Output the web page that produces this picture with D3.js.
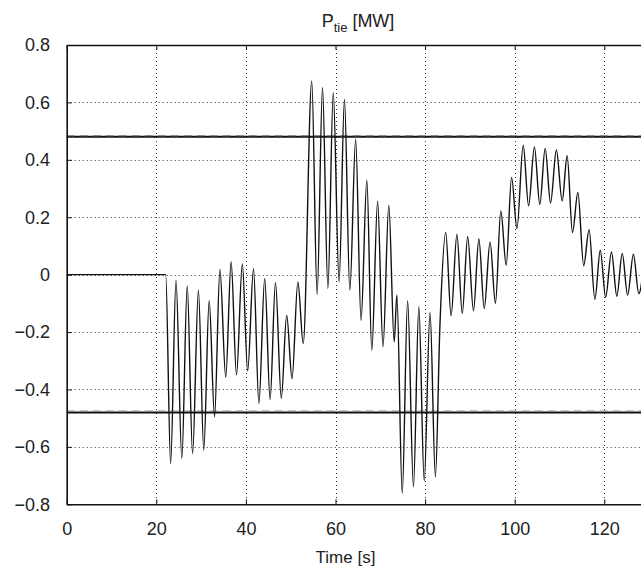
<!DOCTYPE html>
<html>
<head>
<meta charset="utf-8">
<script src="https://cdn.jsdelivr.net/npm/d3@7"></script>
<style>
  html, body { margin: 0; padding: 0; background: #fff; }
  svg { display: block; font-family: "Liberation Sans", Arial, Helvetica, sans-serif; }
</style>
</head>
<body>
<svg id="chart" width="641" height="572"></svg>
<script>
// ---- data ----
const timeS = [0, 22.1, 23.2, 24.4, 25.7, 26.9, 28.1, 29.4, 30.6, 31.8, 33.0, 34.2, 35.5, 36.7, 37.9, 39.2, 40.4, 41.7, 42.9, 44.2, 45.4, 46.6, 47.9, 49.1, 50.3, 51.6, 52.8, 54.7, 55.9, 57.1, 58.3, 59.5, 60.8, 62.0, 63.2, 64.5, 65.7, 67.0, 68.1, 69.4, 70.6, 71.9, 73.1, 73.7, 74.9, 76.1, 77.4, 78.6, 79.8, 81.1, 82.3, 83.3, 84.6, 85.8, 87.1, 88.3, 89.5, 90.8, 92.0, 93.2, 94.5, 95.7, 96.9, 98.1, 99.3, 100.5, 101.9, 103.1, 104.4, 105.6, 106.8, 108.0, 109.3, 110.6, 111.7, 112.9, 114.1, 115.4, 116.6, 117.9, 119.1, 120.3, 121.6, 122.8, 124.0, 125.2, 126.5, 127.7, 129.0];
const ptieMW = [0, 0, -0.658, -0.019, -0.640, -0.039, -0.623, -0.054, -0.611, -0.091, -0.495, 0.018, -0.358, 0.045, -0.349, 0.037, -0.335, 0.021, -0.449, -0.013, -0.435, -0.027, -0.431, -0.141, -0.362, -0.025, -0.240, 0.675, -0.069, 0.652, -0.048, 0.634, -0.025, 0.610, -0.054, 0.472, -0.159, 0.329, -0.263, 0.256, -0.251, 0.242, -0.234, -0.071, -0.762, -0.091, -0.739, -0.112, -0.718, -0.132, -0.704, -0.182, 0.147, -0.143, 0.140, -0.135, 0.132, -0.126, 0.124, -0.118, 0.114, -0.100, 0.222, 0.033, 0.339, 0.161, 0.451, 0.240, 0.445, 0.245, 0.440, 0.250, 0.434, 0.257, 0.414, 0.147, 0.286, 0.031, 0.157, -0.086, 0.085, -0.079, 0.079, -0.075, 0.074, -0.071, 0.071, -0.066, 0.065];
const limitLevels = [0.48, -0.48];
const xTickValues = [0, 20, 40, 60, 80, 100, 120];
const xTickLabels = ["0", "20", "40", "60", "80", "100", "120"];
const yTickValues = [-0.8, -0.6, -0.4, -0.2, 0, 0.2, 0.4, 0.6, 0.8];
const yTickLabels = ["\u22120.8", "\u22120.6", "\u22120.4", "\u22120.2", "0", "0.2", "0.4", "0.6", "0.8"];
const xDomain = [0, 130];
const yDomain = [-0.8, 0.8];

(function () {
  const svg = d3.select("#chart");
  const pLeft = 66.7, pTop = 45, pBottom = 504.3;
  const pxPerSec = (604.3 - pLeft) / 120;
  const pRight = pLeft + (xDomain[1] - xDomain[0]) * pxPerSec;

  const x = d3.scaleLinear().domain(xDomain).range([pLeft, pRight]);
  const y = d3.scaleLinear().domain(yDomain).range([pBottom, pTop]);

  svg.append("defs").append("clipPath").attr("id", "plotClip")
    .append("rect").attr("x", pLeft).attr("y", pTop).attr("width", pRight - pLeft).attr("height", pBottom - pTop);

  // grid
  const grid = svg.append("g").attr("stroke", "#333").attr("stroke-width", 1).attr("stroke-dasharray", "1,3");
  grid.selectAll("line.gx").data(xTickValues.filter(d => d > xDomain[0])).join("line")
    .attr("x1", d => Math.round(x(d)) + 0.5).attr("x2", d => Math.round(x(d)) + 0.5)
    .attr("y1", pTop).attr("y2", pBottom);
  grid.selectAll("line.gy").data(yTickValues.filter(d => d > yDomain[0] && d < yDomain[1])).join("line")
    .attr("x1", pLeft).attr("x2", pRight)
    .attr("y1", d => Math.round(y(d)) + 0.5).attr("y2", d => Math.round(y(d)) + 0.5);

  // limit lines: solid black with grey dashes
  const lim = svg.append("g");
  lim.selectAll("line.solid").data(limitLevels).join("line")
    .attr("x1", pLeft).attr("x2", pRight)
    .attr("y1", d => y(d)).attr("y2", d => y(d))
    .attr("stroke", "#111").attr("stroke-width", 2);
  lim.selectAll("line.dash").data(limitLevels).join("line")
    .attr("x1", pLeft).attr("x2", pRight)
    .attr("y1", d => y(d) - 1.2).attr("y2", d => y(d) - 1.2)
    .attr("stroke", "#8a8a8a").attr("stroke-width", 1.3).attr("stroke-dasharray", "8,5");

  // signal
  const pts = timeS.map((t, i) => [t, ptieMW[i]]);
  const line = d3.line().x(d => x(d[0])).y(d => y(d[1])).curve(d3.curveMonotoneX);
  svg.append("path").datum(pts)
    .attr("clip-path", "url(#plotClip)")
    .attr("fill", "none").attr("stroke", "#111").attr("stroke-width", 1.4)
    .attr("stroke-linejoin", "round")
    .attr("d", line);

  // axes
  const fontSize = 18;
  const xAxisB = d3.axisBottom(x).tickValues(xTickValues).tickFormat((d, i) => xTickLabels[i])
    .tickSizeInner(-5).tickSizeOuter(0).tickPadding(18);
  const gxb = svg.append("g").attr("transform", `translate(0,${pBottom})`).call(xAxisB);
  const xAxisT = d3.axisTop(x).tickValues(xTickValues).tickFormat("").tickSizeInner(-5).tickSizeOuter(0);
  const gxt = svg.append("g").attr("transform", `translate(0,${pTop})`).call(xAxisT);
  const yAxisL = d3.axisLeft(y).tickValues(yTickValues).tickFormat((d, i) => yTickLabels[i])
    .tickSizeInner(-5).tickSizeOuter(0).tickPadding(16.7);
  const gyl = svg.append("g").attr("transform", `translate(${pLeft},0)`).call(yAxisL);

  [gxb, gxt, gyl].forEach(g => {
    g.select(".domain").attr("stroke", "#111").attr("stroke-width", 1.6);
    g.selectAll(".tick line").attr("stroke", "#111").attr("stroke-width", 1);
    g.selectAll("text").attr("font-size", fontSize).attr("fill", "#222")
      .attr("font-family", "'Liberation Sans', Arial, Helvetica, sans-serif");
  });

  // titles
  const title = svg.append("text").attr("x", 358).attr("y", 27).attr("text-anchor", "middle")
    .attr("font-size", 18).attr("fill", "#222");
  title.append("tspan").text("P");
  title.append("tspan").attr("font-size", 13).attr("dy", 5).text("tie");
  title.append("tspan").attr("dy", -5).text(" [MW]");

  svg.append("text").attr("x", 345.5).attr("y", 563).attr("text-anchor", "middle")
    .attr("font-size", 17).attr("fill", "#222").text("Time [s]");
})();
</script>
</body>
</html>
